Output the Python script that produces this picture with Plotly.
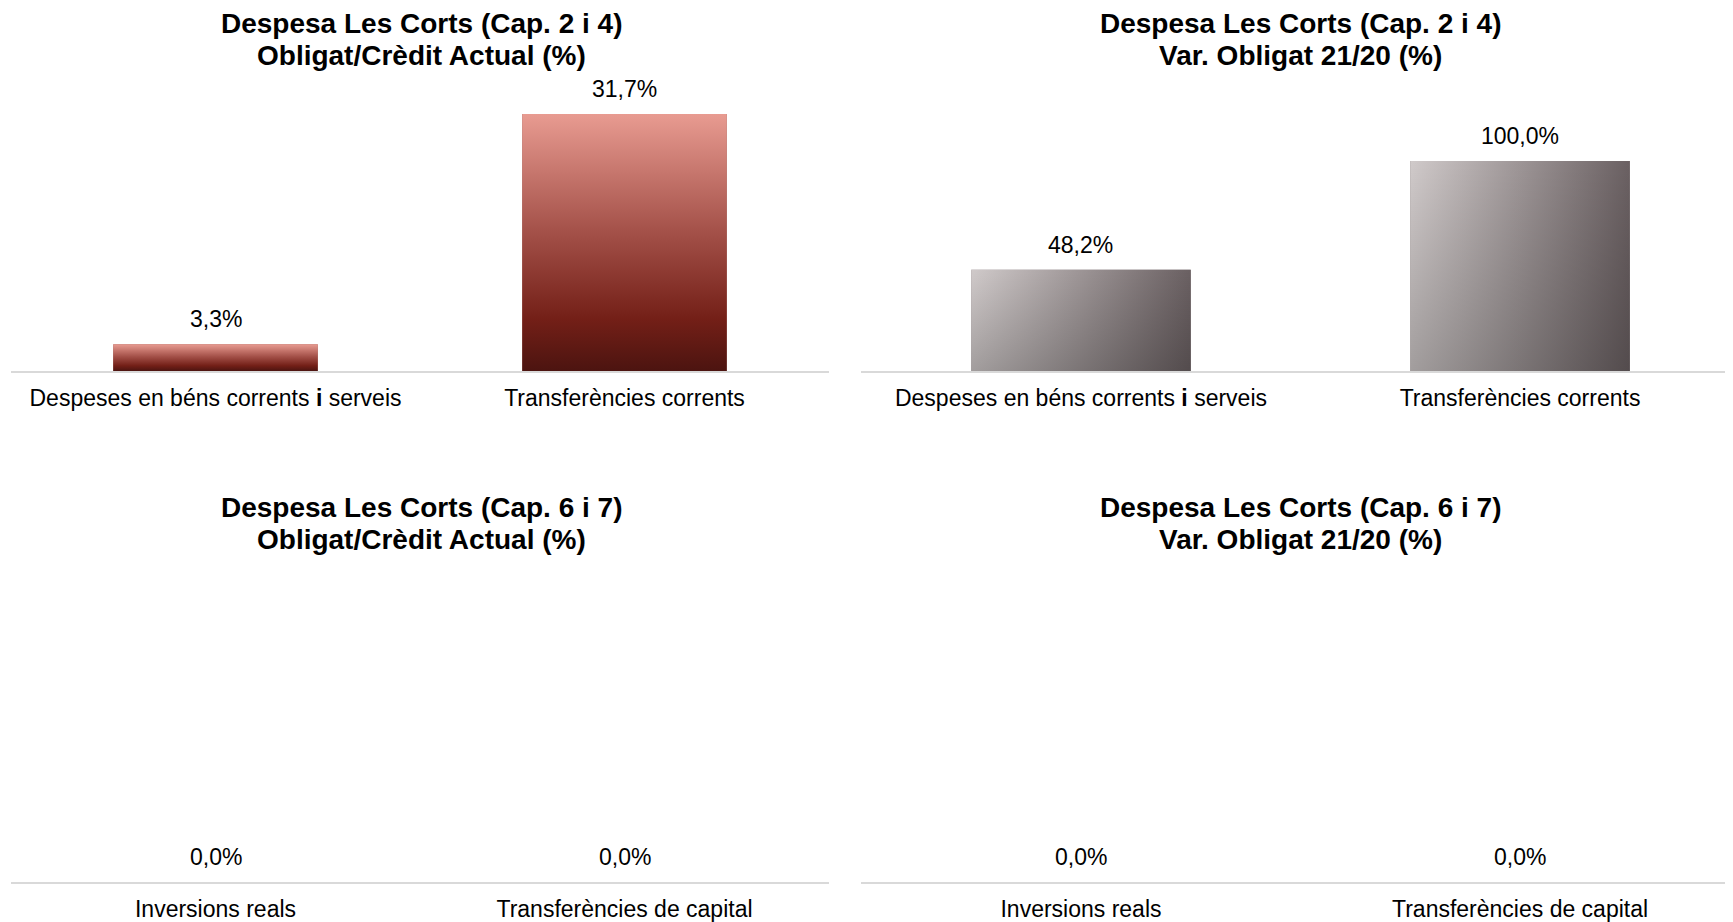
import plotly.graph_objects as go
from plotly.subplots import make_subplots

# data
cats_top = ['Despeses en béns corrents <b>i</b> serveis', 'Transferències corrents']
cats_bottom = ['Inversions reals', 'Transferències de capital']
obligat_credit_top = [3.3, 31.7]
var_obligat_top = [48.2, 100.0]
obligat_credit_bottom = [0.0, 0.0]
var_obligat_bottom = [0.0, 0.0]

title_line1 = ['Despesa Les Corts (Cap. 2 i 4)', 'Despesa Les Corts (Cap. 2 i 4)',
               'Despesa Les Corts (Cap. 6 i 7)', 'Despesa Les Corts (Cap. 6 i 7)']
title_line2 = ['Obligat/Crèdit Actual (%)', 'Var. Obligat 21/20 (%)',
               'Obligat/Crèdit Actual (%)', 'Var. Obligat 21/20 (%)']

red_scale = [[0, '#4c1410'], [0.2, '#731f17'], [0.55, '#a5524a'], [1, '#e89b91']]
grey_scale = [[0, '#d0caca'], [1, '#6a6062']]
shade_scale = [[0, 'rgba(0,0,0,0.22)'], [1, 'rgba(0,0,0,0)']]

FONT = 'Liberation Sans, Arial, sans-serif'
OFF = 8  # page body margin
W, H = 1733 - OFF, 922 - OFF


def px_x(p):
    return (p - OFF) / W


def px_y(p):
    return 1 - (p - OFF) / H


fig = make_subplots(rows=2, cols=2)


def fmt(v):
    return ('%.1f%%' % v).replace('.', ',')


def add_panel(row, col, cats, vals, style, xrange):
    xs = list(range(len(cats)))
    fig.add_trace(go.Bar(x=xs, y=vals, width=0.5, marker_color='#9a5a52' if style == 'red' else '#8a8082',
                         marker_line_width=0, showlegend=False, hoverinfo='skip'), row=row, col=col)
    for i, v in zip(xs, vals):
        if v <= 0:
            continue
        px = [i - 0.25, i + 0.25, i + 0.25, i - 0.25, i - 0.25]
        py = [0, 0, v, v, 0]
        if style == 'red':
            fig.add_trace(go.Scatter(x=px, y=py, fill='toself', mode='none', showlegend=False,
                                     hoverinfo='skip',
                                     fillgradient=dict(type='vertical', colorscale=red_scale)),
                          row=row, col=col)
        else:
            fig.add_trace(go.Scatter(x=px, y=py, fill='toself', mode='none', showlegend=False,
                                     hoverinfo='skip',
                                     fillgradient=dict(type='horizontal', colorscale=grey_scale)),
                          row=row, col=col)
            # darken towards the bottom for a diagonal look
            fig.add_trace(go.Scatter(x=px, y=py, fill='toself', mode='none', showlegend=False,
                                     hoverinfo='skip',
                                     fillgradient=dict(type='vertical', colorscale=shade_scale)),
                          row=row, col=col)

    for i, v in zip(xs, vals):
        fig.add_annotation(x=i, y=v, text=fmt(v), showarrow=False, yanchor='bottom', yshift=10,
                           font=dict(size=23, color='#000000', family=FONT), row=row, col=col)
    fig.update_xaxes(tickvals=xs, ticktext=cats, range=xrange, row=row, col=col)


add_panel(1, 1, cats_top, obligat_credit_top, 'red', [-0.5, 1.5])
add_panel(1, 2, cats_top, var_obligat_top, 'grey', [-0.501, 1.485])
add_panel(2, 1, cats_bottom, obligat_credit_bottom, 'red', [-0.5, 1.5])
add_panel(2, 2, cats_bottom, var_obligat_bottom, 'grey', [-0.501, 1.485])

left_dom = [px_x(11), px_x(829)]
right_dom = [px_x(861), 1.0]
top_dom = [px_y(371), px_y(80)]
bot_dom = [px_y(882), px_y(590)]

fig.update_layout(
    xaxis=dict(domain=left_dom), xaxis2=dict(domain=right_dom),
    xaxis3=dict(domain=left_dom), xaxis4=dict(domain=right_dom),
    yaxis=dict(domain=top_dom, range=[0, 35.9]),
    yaxis2=dict(domain=top_dom, range=[0, 138.6]),
    yaxis3=dict(domain=bot_dom, range=[0, 1]),
    yaxis4=dict(domain=bot_dom, range=[0, 1]),
)

fig.update_xaxes(
    showgrid=False,
    zeroline=False,
    showline=True,
    linecolor='#d9d9d9',
    linewidth=2,
    ticks='',
    ticklabelstandoff=5,
    tickfont=dict(size=23, color='#000000', family=FONT),
    fixedrange=True)
fig.update_yaxes(
    showgrid=False,
    zeroline=False,
    showline=False,
    showticklabels=False,
    fixedrange=True)

title_x = [421, 1300, 421, 1300]
title_y = [24, 24, 508, 508]
for l1, l2, tx, ty in zip(title_line1, title_line2, title_x, title_y):
    for txt, yy in ((l1, ty), (l2, ty + 31)):
        fig.add_annotation(x=px_x(tx), y=px_y(yy), xref='paper', yref='paper', text='<b>' + txt + '</b>',
                           showarrow=False, xanchor='center', yanchor='middle',
                           font=dict(size=28, color='#000000', family=FONT))

fig.update_layout(
    width=W,
    height=H,
    margin=dict(l=0, r=0, t=0, b=0),
    paper_bgcolor='white',
    plot_bgcolor='white',
    bargap=0.5,
    showlegend=False,
    font=dict(family=FONT, size=23, color='black'),
)

fig.write_html("out.html")
